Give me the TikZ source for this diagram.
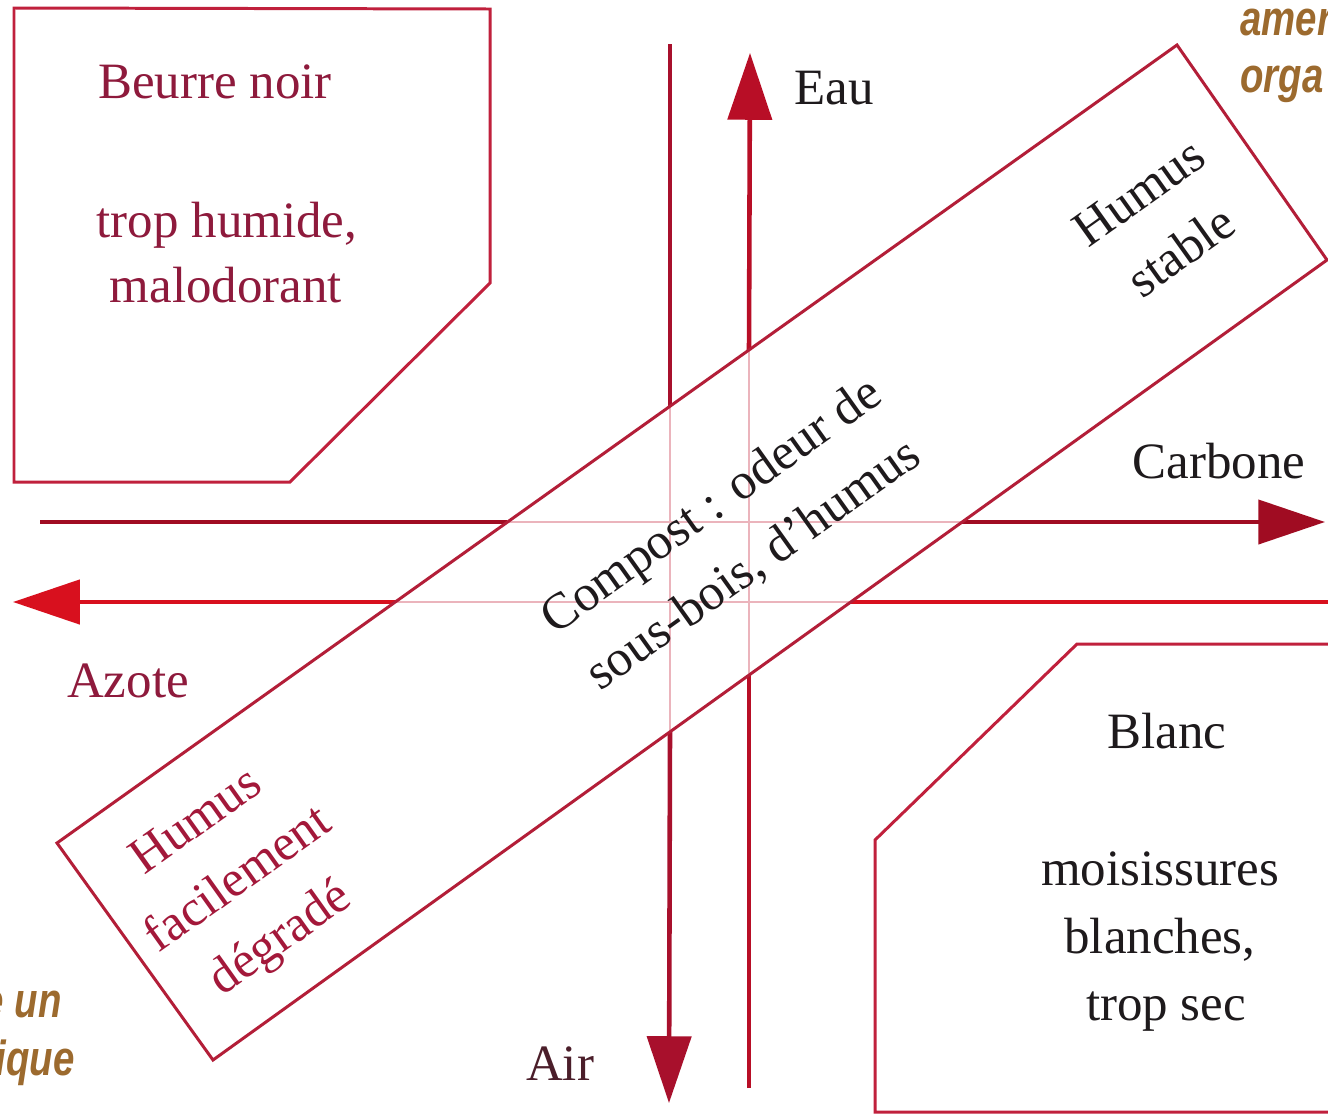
\documentclass[tikz,border=0pt]{standalone}
\usepackage{fontspec}
\usepackage{graphicx}
\setmainfont{Liberation Serif}
\newfontfamily\brownfont{Liberation Sans}
\usetikzlibrary{arrows.meta}
\definecolor{boxred}{HTML}{C0203C}
\definecolor{bandred}{HTML}{B31E38}
\definecolor{faintred}{HTML}{EBB4BC}
\definecolor{airline}{HTML}{A8102C}
\definecolor{eauline}{HTML}{B80E26}
\definecolor{carline}{HTML}{A00C22}
\definecolor{azline}{HTML}{D8101E}
\definecolor{inkblack}{HTML}{1E1A1C}
\definecolor{crimsontext}{HTML}{8E1A3C}
\definecolor{humustext}{HTML}{A3183A}
\definecolor{airtext}{HTML}{4B1E2A}
\definecolor{brownish}{HTML}{9C6A2E}
\begin{document}
\begin{tikzpicture}[x=0.02cm,y=-0.02cm,
  txt/.style={font=\fontsize{29}{38}\selectfont, inner sep=0pt, text=inkblack, anchor=base},
  rtxt/.style={font=\fontsize{29}{41}\selectfont, inner sep=0pt, text=inkblack, align=center, rotate=35.5},
  outline/.style={draw=boxred, line width=1.7pt, line join=miter},
  faint/.style={draw=faintred, line width=0.9pt},
  axisline/.style={line width=2.6pt},
  tip/.style={-{Triangle[length=38pt,width=25pt]}},
  brown/.style={font=\brownfont\bfseries\itshape\fontsize{28}{34}\selectfont, text=brownish, inner sep=0pt}]
\useasboundingbox (0,0) rectangle (1328,1116);
\fill[white] (0,0) rectangle (1328,1116);
\clip (0,0) rectangle (1328,1116);

% band corners
\coordinate (bandL) at (57,843);
\coordinate (bandT) at (1177,45);
\coordinate (bandR) at (1327,260);
\coordinate (bandB) at (213,1060);

% axis points
\coordinate (airTop) at (670,44);
\coordinate (airIn) at (670,406);
\coordinate (airOut) at (670,732);
\coordinate (airTip) at (669,1103);
\coordinate (eauBot) at (749,1088);
\coordinate (eauIn) at (749,675);
\coordinate (eauOut) at (749,350);
\coordinate (eauTip) at (750,53);
\coordinate (carStart) at (40,522);
\coordinate (carIn) at (507,522);
\coordinate (carOut) at (962,522);
\coordinate (carTip) at (1325,522);
\coordinate (azStart) at (1345,602);
\coordinate (azIn) at (851,602);
\coordinate (azOut) at (395,602);
\coordinate (azTip) at (13,602);

% faint parts inside the band
\draw[faint] (airIn) -- (airOut);
\draw[faint] (eauIn) -- (eauOut);
\draw[faint] (carIn) -- (carOut);
\draw[faint] (azIn) -- (azOut);

% solid axes
\draw[axisline, airline] (airTop) -- (airIn);
\draw[axisline, airline, tip] (airOut) -- (airTip);
\draw[axisline, eauline] (eauBot) -- (eauIn);
\draw[axisline, eauline, tip] (eauOut) -- (eauTip);
\draw[axisline, carline] (carStart) -- (carIn);
\draw[axisline, carline, tip] (carOut) -- (carTip);
\draw[axisline, azline] (azStart) -- (azIn);
\draw[axisline, azline, tip] (azOut) -- (azTip);

% band
\draw[draw=bandred, line width=1.7pt, line join=miter] (bandL) -- (bandT) -- (bandR) -- (bandB) -- cycle;

% Beurre noir box
\draw[outline] (14,8) -- (490,9) -- (490,283) -- (290,482) -- (14,482) -- cycle;
\node[txt, text=crimsontext] (beurre) at (215,98) {Beurre noir};
\node[txt, text=crimsontext] (humide) at (227,237) {trop humide,};
\node[txt, text=crimsontext] (malo) at (226,302) {malodorant};

% Blanc box
\draw[outline] (1077,644) -- (1345,644) -- (1345,1112) -- (875,1112) -- (875,840) -- cycle;
\node[txt] (blanc) at (1167,748) {Blanc};
\node[txt] (moisi) at (1160,885) {moisissures};
\node[txt] (blanches) at (1160,953) {blanches,};
\node[txt] (sec) at (1166,1020) {trop sec};

% axis labels
\node[txt] (eau) at (834,104) {Eau};
\node[txt] (carbone) at (1219,478) {Carbone};
\node[txt, text=crimsontext] (azote) at (128,697) {Azote};
\node[txt, text=airtext] (air) at (560,1080) {Air};

% band texts
\node[rtxt] (compost) at (733,536) {Compost : odeur de\\sous-bois, d{\char"27}humus};
\node[rtxt] (stable) at (1160,222) {Humus\\stable};
\node[rtxt, text=humustext] (facile) at (240,882) {Humus\\facilement\\dégradé};

% cut-off brown fragments
\node[brown, anchor=base west] (amer) at (1240,35) {\scalebox{0.78}[1]{amer}};
\node[brown, anchor=base west] (orga) at (1240,92) {\scalebox{0.78}[1]{orga}};
\node[brown, anchor=base east] (eun) at (62,1017) {\scalebox{0.78}[1]{e un}};
\node[brown, anchor=base east] (ique) at (75,1075) {\scalebox{0.78}[1]{ique}};
\end{tikzpicture}
\end{document}
